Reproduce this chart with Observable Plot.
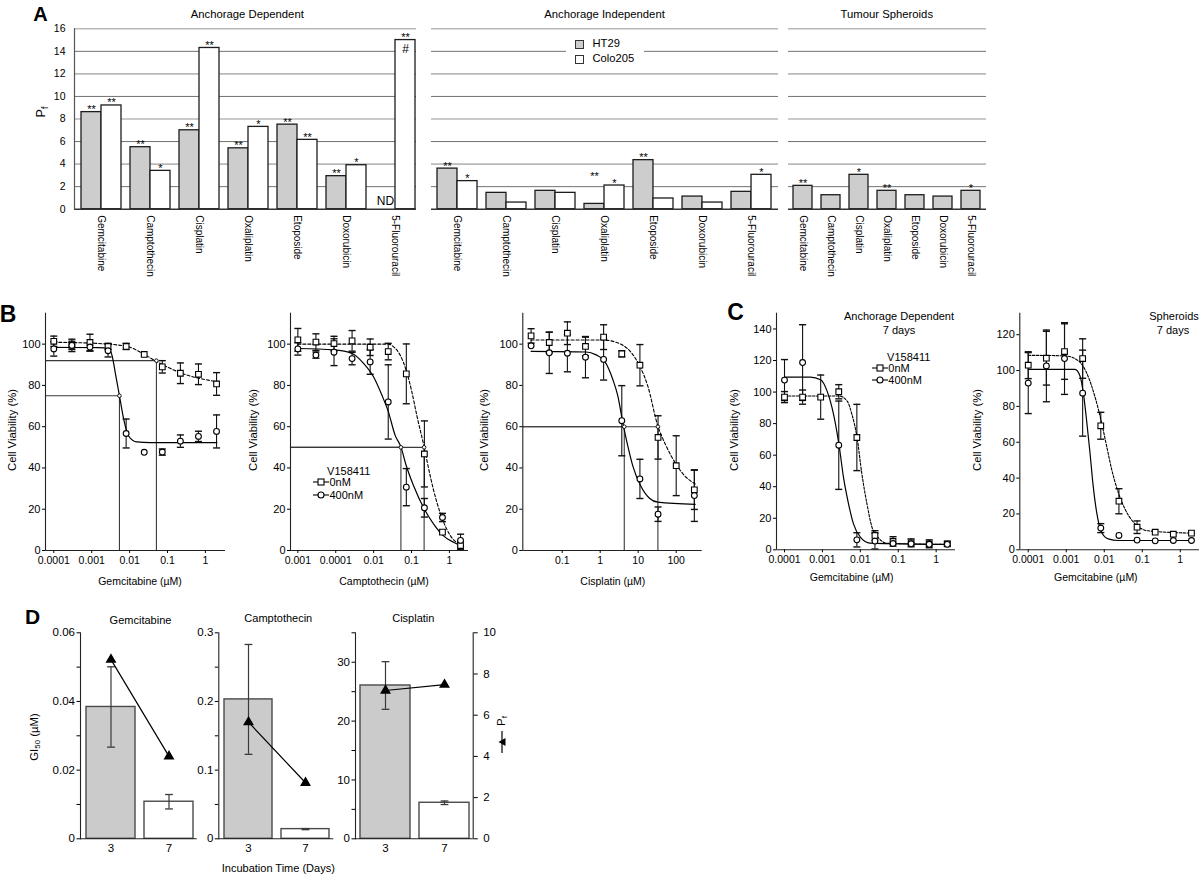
<!DOCTYPE html>
<html><head><meta charset="utf-8">
<script src="https://cdn.jsdelivr.net/npm/d3@7"></script>
<script src="https://cdn.jsdelivr.net/npm/@observablehq/plot@0.6"></script>
<style>
body{margin:0;background:#fff;}
#root{position:relative;width:1200px;height:876px;overflow:hidden;font-family:"Liberation Sans",Arial,Helvetica,sans-serif;color:#000;background:#fff;}
.pl{position:absolute;}
.t{position:absolute;white-space:nowrap;line-height:1;}
.t sub{font-size:0.7em;vertical-align:baseline;position:relative;top:0.3em;}
</style></head><body><div id="root"></div>
<script>
// ---------------- DATA ----------------
const drugs = ["Gemcitabine","Camptothecin","Cisplatin","Oxaliplatin","Etoposide","Doxorubicin","5-Fluorouracil"];
// Panel A: Pf values
const adHT29 = [8.61, 5.5, 7.0, 5.4, 7.5, 2.93, null];
const adColo = [9.2, 3.4, 14.3, 7.3, 6.15, 3.9, 15.0];
const adStarHT29 = ["**","**","**","**","**","**",""];
const adStarColo = ["**","*","**","*","**","*","**"];
const aiHT29 = [3.6, 1.45, 1.63, 0.47, 4.35, 1.12, 1.54];
const aiColo = [2.49, 0.59, 1.45, 2.1, 0.95, 0.59, 3.05];
const aiStarHT29 = ["**","","","**","**","",""];
const aiStarColo = ["*","","","*","","","*"];
const aiStarLiftHT29 = [null,null,null,2.67,null,null,null];
const tsHT29 = [2.07, 1.24, 3.05, 1.63, 1.24, 1.12, 1.63];
const tsStar = ["**","","*","**","","","*"];
const pfTicks = [0,2,4,6,8,10,12,14,16];
const gridLight = [4,8,12,16];
const gridDark = [2,6,10,14];

// Panels B, C: concentrations (uM)
const concG = [0.0001, 0.0003, 0.0009, 0.0027, 0.0081, 0.0243, 0.0729, 0.2187, 0.6561, 1.968];
const concCis = [0.0152, 0.0457, 0.137, 0.41, 1.23, 3.7, 11.1, 33.3, 100, 300];
const decadeTicks = [0.0001, 0.001, 0.01, 0.1, 1];
const campTickLabels = ["0.001","0.0001","0.01","0.1","1"];
const cisTicks = [0.1, 1, 10, 100];
const viabTicksB = [0,20,40,60,80,100];
const viabTicksC1 = [0,20,40,60,80,100,120,140];
const viabTicksC2 = [0,20,40,60,80,100,120];

// B1 Gemcitabine
const gem0 = [101.4, 99.4, 100.8, 98.9, 98.9, 95, 89, 85.9, 85.4, 80.7];
const gem0Err = [2.5, 3, 4, 1.5, 1.5, null, 3, 5, 5, 5.5];
const gem400 = [97.7, 99.4, 98.6, 96.8, 56.7, 47.6, 47.7, 53, 55.3, 57.7];
const gem400Err = [3.5, 2, 2, 3, 7, null, 1.5, 3, 2.5, 8];
const gem0FitX = [0.0001, 0.00092, 0.0081, 0.0245, 0.049, 0.23, 2.0];
const gem0FitY = [100.9, 100.5, 99, 95, 91.8, 86, 81.8];
const gem400FitX = [0.0001, 0.0015, 0.0028, 0.0035, 0.0042, 0.0054, 0.007, 0.0094, 0.0155, 0.035, 2.0];
const gem400FitY = [98.4, 98.3, 98, 94, 86, 75, 63.5, 55.5, 52.6, 52.3, 52.3];
const gemRefX = [0.051, 0.0054];
const gemRefY = [92, 75];

// B2 Camptothecin
const cam0 = [102.1, 101, 100.3, 101.6, 98.5, 96.4, 85.6, 46.8, 8.9, 2.4];
const cam0Err = [5.5, 4, 3.5, 5, 4, 4, 14.5, 16, null, 2];
const cam400 = [97.7, 94.7, 96.1, 93, 91.4, 72, 30.7, 20.7, 16, 4.9];
const cam400Err = [3, 1.5, 6.5, 3, 6, 18, 9, 4.5, 2, 3];
const cam0FitX = [0.0001, 0.003, 0.0245, 0.0337, 0.05, 0.072, 0.102, 0.138, 0.215, 0.309, 0.464, 0.65, 1.05, 2.0];
const cam0FitY = [100, 100, 100, 98.7, 94.7, 87.4, 76.9, 65.5, 50.2, 36.4, 23.5, 15.4, 7.3, 2.75];
const cam400FitX = [0.0001, 0.00089, 0.0027, 0.0055, 0.01, 0.0166, 0.0245, 0.037, 0.0525, 0.072, 0.112, 0.215, 0.38, 0.65, 1.28, 2.0];
const cam400FitY = [97.9, 97.2, 95.5, 90.6, 84.1, 75.2, 67.2, 55.8, 50.2, 41.3, 31.6, 20.2, 12.9, 7.6, 4, 2.4];
const camRefX = [0.0525, 0.215];
const camRefY = [50, 50];

// B3 Cisplatin
const cis0 = [104, 100.8, 105.3, 98.9, 103.4, 95.3, 89.8, 54.8, 41.1, 29.4];
const cis0Err = [3.5, 5, 5.5, 4.5, 6, 1.5, 10, 10.5, 14.5, 9.5];
const cis400 = [99.2, 95.8, 95.6, 93.7, 92.6, 62.9, 34.7, 17.6, null, 26.6];
const cis400Err = [null, 10, 9, 10, 10, 17, 9.5, 3.5, null, 12.5];
const cis0FitX = [0.0152, 1.29, 2.5, 3.93, 6.5, 11.5, 17.8, 32.7, 54, 105, 182, 316];
const cis0FitY = [102, 102, 101, 99.5, 96, 88.7, 79.8, 60.5, 50.8, 41.1, 35.5, 32.3];
const cis400FitX = [0.0152, 0.426, 0.78, 1.29, 2.14, 2.9, 3.93, 5.3, 7.2, 11.5, 19.8, 32.7, 316];
const cis400FitY = [96.5, 96.2, 94.8, 91.9, 83, 75, 62, 50.8, 41, 31.5, 25.3, 23.4, 22.4];
const cisRefX = [4.3, 33];
const cisRefY = [60, 60];

// C1 Gemcitabine anchorage dependent 7 days
const adG0 = [96.8, 96.8, 96.8, 100.2, 71.2, 9.1, 5.3, 4.4, 3.8, 3.8];
const adG0Err = [3.5, 4.5, 14, 4.5, 21, 3, 3, 2.5, 2.5, 1.5];
const adG400 = [107.6, 118.7, null, 66.3, 6.3, 5.5, 4.0, 3.8, 3.5, 3.5];
const adG400Err = [13, 24, null, 28, 4.5, 5, null, null, null, null];
const adG0FitX = [0.0001, 0.00275, 0.0045, 0.006, 0.0082, 0.011, 0.015, 0.0203, 0.03, 0.05, 2.0];
const adG0FitY = [97.5, 97.5, 94.3, 85.9, 71.2, 48, 29, 14.3, 7.6, 4.2, 3.4];
const adG400FitX = [0.0001, 0.00048, 0.0009, 0.00133, 0.0018, 0.00275, 0.0036, 0.0049, 0.0066, 0.01, 0.018, 2.0];
const adG400FitY = [109.5, 109.5, 107.8, 100.6, 90, 66.3, 45.9, 29, 16.4, 8, 4.2, 3.4];

// C2 Gemcitabine spheroids 7 days
const spG0 = [103, 106.9, 110.6, 106.7, 69.2, 27.1, 12.6, 9.8, 8.7, 9.3];
const spG0Err = [7.5, 15, 15.5, 11, 7.5, 7, 3.5, null, null, null];
const spG400 = [93, 102.6, 106.7, 87.4, 12.1, 8, 5.4, 5, 5.2, 5.2];
const spG400Err = [17, 20, 20, 24, 2.5, null, null, null, null, null];
const spG0FitX = [0.0001, 0.00092, 0.0021, 0.0034, 0.0056, 0.0085, 0.0115, 0.0156, 0.0233, 0.035, 0.064, 0.144, 2.0];
const spG0FitY = [108.5, 108.2, 105.4, 98.9, 85.9, 71, 58, 45, 32, 22.8, 14.5, 10.6, 9.3];
const spG400FitX = [0.0001, 0.0017, 0.0023, 0.0028, 0.0034, 0.0042, 0.0051, 0.0063, 0.0085, 0.0127, 0.0233, 2.0];
const spG400FitY = [100.7, 100.7, 97, 87.8, 73, 54.4, 35.8, 21, 9.8, 6.1, 5.2, 5.2];

// Panel D
const days = ["3","7"];
const gemGI50 = [0.0384, 0.0108], gemGI50Err = [0.0117, 0.0021];
const camGI50 = [0.203, 0.0141], camGI50Err = [0.08, 0.0008];
const cisGI50 = [26.05, 6.12], cisGI50Err = [4.05, 0.3];
const gemPf = [8.7, 4.0], camPf = [5.66, 2.72], cisPf = [7.2, 7.48];
const pfTicksD = [0,2,4,6,8,10];

// ---------------- HELPERS ----------------
const root = document.getElementById("root");
const FONT = '"Liberation Sans", Arial, Helvetica, sans-serif';
const baseStyle = {background:"none", overflow:"visible", fontFamily:FONT, fontSize:"11px", color:"black", maxWidth:"none"};
const capSym = {draw(ctx, size){ const w = Math.sqrt(size); ctx.moveTo(-w,0); ctx.lineTo(w,0); }};

function mount(svg, left, top, width) {
  const d = document.createElement("div");
  d.className = "pl"; d.style.left = left+"px"; d.style.top = top+"px"; d.style.width = width+"px";
  d.appendChild(svg); root.appendChild(d);
}
function txt(html, x, y, o = {}) {
  const d = document.createElement("div");
  d.className = "t"; d.innerHTML = html;
  d.style.left = x+"px"; d.style.top = y+"px";
  d.style.fontSize = (o.size || 11)+"px";
  if (o.bold) d.style.fontWeight = "bold";
  if (o.ls) d.style.letterSpacing = o.ls+"px";
  let tr = o.anchor === "start" ? "translate(0,-50%)" : "translate(-50%,-50%)";
  if (o.rotate) tr += ` rotate(${o.rotate}deg)`;
  d.style.transform = tr;
  root.appendChild(d);
  return d;
}
function box(left, top, w, h, css) {
  const d = document.createElement("div");
  d.style.position = "absolute"; d.style.left = left+"px"; d.style.top = top+"px";
  d.style.width = w+"px"; d.style.height = h+"px"; d.style.boxSizing = "border-box";
  Object.assign(d.style, css); root.appendChild(d); return d;
}

// ---------------- PANEL A ----------------
function barPanel(o) {
  const W = o.width - o.ml - o.mr, n = drugs.length;
  const step = W / (n - o.pi + 2*o.po);
  const bw = step * (1 - o.pi);
  const half = o.colo ? bw/2 : 0;
  const rows = drugs.map((d,i) => ({drug:d, ht:o.ht[i], colo:o.colo ? o.colo[i] : null,
    sh:o.starHT[i], sc:o.starColo ? o.starColo[i] : "", lift:o.lift ? o.lift[i] : null}));
  const marks = [
    Plot.ruleY(gridLight, {stroke:"#b9b9b9", strokeWidth:1.6}),
    Plot.ruleY(gridDark, {stroke:"#727272", strokeWidth:1}),
    Plot.barY(rows.filter(r => r.ht != null), {x:"drug", y:"ht", fill:"#cdcdcd", stroke:"#1c1c1c", strokeWidth:1.3, insetRight:half}),
  ];
  if (o.colo) marks.push(Plot.barY(rows.filter(r => r.colo != null), {x:"drug", y:"colo", fill:"white", stroke:"#1c1c1c", strokeWidth:1.3, insetLeft:half}));
  marks.push(Plot.ruleY([0], {stroke:"#333", strokeWidth:1.4}));
  marks.push(Plot.text(rows.filter(r => r.sh && r.ht != null), {x:"drug", y:r => r.lift ?? r.ht, text:"sh", dx:-half/2, dy:1, lineAnchor:"bottom", fontSize:11}));
  if (o.colo) marks.push(Plot.text(rows.filter(r => r.sc), {x:"drug", y:"colo", text:"sc", dx:half/2, dy:1, lineAnchor:"bottom", fontSize:11}));
  if (o.nd) {
    marks.push(Plot.text(rows.filter(r => r.ht == null), {x:"drug", y:0, text:() => "ND", dx:-half/2, dy:-4, lineAnchor:"bottom", fontSize:12}));
    marks.push(Plot.text(rows.filter(r => r.ht == null), {x:"drug", y:"colo", text:() => "#", dx:half/2, dy:4, lineAnchor:"top", fontSize:12}));
  }
  marks.push(Plot.axisX({tickRotate:90, tickSize:0, tickPadding:6, fontSize:10, label:null}));
  if (o.yAxis) {
    marks.push(Plot.frame({anchor:"left", stroke:"#555", strokeWidth:1.2}));
    marks.push(Plot.axisY({ticks:pfTicks, tickFormat:d => String(d), tickSize:0, tickPadding:9, fontSize:10.5, label:null}));
  }
  return Plot.plot({
    width:o.width, height:300, marginLeft:o.ml, marginRight:o.mr, marginTop:28.3, marginBottom:91.3,
    x:{type:"band", domain:drugs, paddingInner:o.pi, paddingOuter:o.po, align:o.align},
    y:{domain:[0,16], axis:o.yAxis ? undefined : null},
    style:baseStyle, marks
  });
}
mount(barPanel({width:420, ml:74, mr:4, pi:0.192, po:0.05, align:0.86, ht:adHT29, colo:adColo, starHT:adStarHT29, starColo:adStarColo, yAxis:true, nd:true}), 0, 0, 420);
mount(barPanel({width:368, ml:11, mr:10, pi:0.19, po:0.105, align:0.45, ht:aiHT29, colo:aiColo, starHT:aiStarHT29, starColo:aiStarColo, lift:aiStarLiftHT29}), 420, 0, 368);
mount(barPanel({width:220, ml:8, mr:14, pi:0.312, po:0.177, align:0.43, ht:tsHT29, starHT:tsStar}), 780, 0, 220);

// ---------------- PANELS B, C ----------------
function dosePlot(o) {
  const pts = (m, e) => o.conc.map((c,i) => ({x:c, y:m[i], e:e[i]})).filter(d => d.y != null);
  const p0 = pts(o.m0, o.e0), p4 = pts(o.m4, o.e4);
  const errs = [...p0, ...p4].filter(d => d.e != null);
  const fit = (xs, ys) => xs.map((x,i) => ({x, y:ys[i]}));
  const refs = o.refX ? o.refX.map((x,i) => ({x, y:o.refY[i]})) : [];
  const fmt = o.labels ? (d => o.labels[o.xticks.indexOf(d)]) : (d => String(d));
  return Plot.plot({
    width:o.width, height:300, marginLeft:o.ml, marginRight:o.mr, marginTop:12.7, marginBottom:o.mb || 50,
    x:{type:"log", domain:o.xdom}, y:{domain:o.ydom},
    style:baseStyle,
    marks:[
      Plot.ruleY(refs, {y:"y", x1:o.xdom[0], x2:"x", stroke:"#3a3a3a", strokeWidth:1.1}),
      Plot.ruleX(refs, {x:"x", y1:0, y2:"y", stroke:"#3a3a3a", strokeWidth:1.1}),
      Plot.ruleX(errs, {x:"x", y1:d => d.y - d.e, y2:d => d.y + d.e, stroke:"#111", strokeWidth:1.1}),
      Plot.dot(errs, {x:"x", y:d => d.y + d.e, symbol:capSym, r:2, fill:"none", stroke:"#111", strokeWidth:1.4}),
      Plot.dot(errs, {x:"x", y:d => d.y - d.e, symbol:capSym, r:2, fill:"none", stroke:"#111", strokeWidth:1.4}),
      Plot.line(fit(o.f0x, o.f0y), {x:"x", y:"y", stroke:"black", strokeWidth:1.1, strokeDasharray:o.dash, curve:"monotone-x"}),
      Plot.line(fit(o.f4x, o.f4y), {x:"x", y:"y", stroke:"black", strokeWidth:1.2, curve:"monotone-x"}),
      Plot.dot(p0, {x:"x", y:"y", symbol:"square", r:3.2, fill:"white", stroke:"black", strokeWidth:1.1}),
      Plot.dot(p4, {x:"x", y:"y", symbol:"circle", r:2.9, fill:"white", stroke:"black", strokeWidth:1.1}),
      Plot.dot(refs, {x:"x", y:"y", r:1.8, fill:"white", stroke:"black", strokeWidth:0.9}),
      Plot.ruleX([o.xdom[0]], {stroke:"#222", strokeWidth:1.1}),
      Plot.ruleY([0], {stroke:"#222", strokeWidth:1.1}),
      Plot.axisY({ticks:o.yticks, tickFormat:d => String(d), tickSize:3, tickPadding:2, fontSize:11, label:null}),
      Plot.axisX({ticks:o.xticks, tickFormat:fmt, tickSize:3, tickPadding:3, fontSize:10.5, label:null}),
    ]
  });
}
mount(dosePlot({width:240, ml:45, mr:15, xdom:[6.04e-5, 3.39], ydom:[0,115], yticks:viabTicksB, xticks:decadeTicks,
  conc:concG, m0:gem0, e0:gem0Err, m4:gem400, e4:gem400Err, f0x:gem0FitX, f0y:gem0FitY, f4x:gem400FitX, f4y:gem400FitY,
  refX:gemRefX, refY:gemRefY, dash:"3,2"}), 0, 300, 240);
mount(dosePlot({width:240, ml:50, mr:12, xdom:[6.4e-5, 3.19], ydom:[0,115], yticks:viabTicksB, xticks:decadeTicks, labels:campTickLabels,
  conc:concG, m0:cam0, e0:cam0Err, m4:cam400, e4:cam400Err, f0x:cam0FitX, f0y:cam0FitY, f4x:cam400FitX, f4y:cam400FitY,
  refX:camRefX, refY:camRefY, dash:"3,2"}), 240, 300, 240);
mount(dosePlot({width:230, ml:42.3, mr:8.3, xdom:[0.0092, 483], ydom:[0,115], yticks:viabTicksB, xticks:cisTicks,
  conc:concCis, m0:cis0, e0:cis0Err, m4:cis400, e4:cis400Err, f0x:cis0FitX, f0y:cis0FitY, f4x:cis400FitX, f4y:cis400FitY,
  refX:cisRefX, refY:cisRefY, dash:"3,2"}), 480, 300, 230);
mount(dosePlot({width:250, ml:56, mr:15, mb:50.7, xdom:[6.15e-5, 3.24], ydom:[0,150], yticks:viabTicksC1, xticks:decadeTicks,
  conc:concG, m0:adG0, e0:adG0Err, m4:adG400, e4:adG400Err, f0x:adG0FitX, f0y:adG0FitY, f4x:adG400FitX, f4y:adG400FitY,
  dash:"2.5,1.5"}), 720, 300, 250);
mount(dosePlot({width:230, ml:49.3, mr:1, mb:50.7, xdom:[6.0e-5, 3.2], ydom:[0,132], yticks:viabTicksC2, xticks:decadeTicks,
  conc:concG, m0:spG0, e0:spG0Err, m4:spG400, e4:spG400Err, f0x:spG0FitX, f0y:spG0FitY, f4x:spG400FitX, f4y:spG400FitY,
  dash:"2.5,1.5"}), 970, 300, 230);

// ---------------- PANEL D ----------------
const dBand = {type:"band", domain:days, paddingInner:0.157, paddingOuter:0.07, align:0.6};
function dPlot(o) {
  const rows = days.map((d,i) => ({day:d, v:o.v[i], e:o.e[i]}));
  return Plot.plot({
    width:o.width, height:276, marginLeft:o.ml, marginRight:o.mr, marginTop:32.3, marginBottom:37.7,
    x:dBand, y:{domain:o.ydom}, style:baseStyle,
    marks:[
      Plot.barY(rows, {filter:d => d.day === days[0], x:"day", y:"v", fill:"#cbcbcb", stroke:"#4a4a4a", strokeWidth:1.4}),
      Plot.barY(rows, {filter:d => d.day !== days[0], x:"day", y:"v", fill:"white", stroke:"#4a4a4a", strokeWidth:1.4}),
      Plot.ruleX(rows, {x:"day", y1:d => d.v - d.e, y2:d => d.v + d.e, stroke:"#3a3a3a", strokeWidth:1.2}),
      Plot.dot(rows, {x:"day", y:d => d.v + d.e, symbol:capSym, r:2.2, fill:"none", stroke:"#3a3a3a", strokeWidth:1.3}),
      Plot.dot(rows, {x:"day", y:d => d.v - d.e, symbol:capSym, r:2.2, fill:"none", stroke:"#3a3a3a", strokeWidth:1.3}),
      Plot.ruleY([0], {stroke:"#222", strokeWidth:1.1}),
      Plot.frame({anchor:"left", stroke:"#222", strokeWidth:1.1}),
      Plot.axisY({ticks:o.major, tickFormat:d => String(d), tickSize:3.5, tickPadding:2, fontSize:11.5, label:null}),
      Plot.axisY({ticks:o.minor, tickFormat:() => "", tickSize:3.5, label:null}),
      Plot.axisX({tickSize:0, tickPadding:5, fontSize:11.5, label:null}),
    ]
  });
}
function dPf(o) {
  const rows = days.map((d,i) => ({day:d, pf:o.pf[i]}));
  const marks = [
    Plot.line(rows, {x:"day", y:"pf", stroke:"black", strokeWidth:1.2}),
    Plot.dot(rows, {x:"day", y:"pf", symbol:"triangle", r:3.1, fill:"black", stroke:"black"}),
  ];
  if (o.right) {
    marks.push(Plot.frame({anchor:"right", stroke:"#222", strokeWidth:1.1}));
    marks.push(Plot.axisY({anchor:"right", ticks:pfTicksD, tickFormat:d => String(d), tickSize:4, tickPadding:6, fontSize:11.5, label:null}));
  }
  return Plot.plot({
    width:o.width, height:276, marginLeft:o.ml, marginRight:o.mr, marginTop:32.3, marginBottom:37.7,
    x:{...dBand, axis:null}, y:{domain:[0,10], axis:o.right ? undefined : null}, style:baseStyle, marks
  });
}
mount(dPlot({width:210, ml:80, mr:13.3, ydom:[0,0.06], major:[0,0.02,0.04,0.06], minor:[0.01,0.03,0.05], v:gemGI50, e:gemGI50Err}), 0, 600, 210);
mount(dPf({width:210, ml:80, mr:13.3, pf:gemPf}), 0, 600, 210);
mount(dPlot({width:170, ml:38.3, mr:16.7, ydom:[0,0.3], major:[0,0.1,0.2,0.3], minor:[0.05,0.15,0.25], v:camGI50, e:camGI50Err}), 180, 600, 170);
mount(dPf({width:170, ml:38.3, mr:16.7, pf:camPf}), 180, 600, 170);
mount(dPlot({width:160, ml:5, mr:37.3, ydom:[0,35], major:[0,10,20,30], minor:[5,15,25,35], v:cisGI50, e:cisGI50Err}), 350, 600, 160);
mount(dPf({width:160, ml:5, mr:37.3, pf:cisPf, right:true}), 350, 600, 160);

// ---------------- TEXT ----------------
txt("A", 40.5, 13.7, {size:20, bold:true});
txt("B", 8, 313.5, {size:23, bold:true});
txt("C", 735.5, 312.4, {size:23, bold:true});
txt("D", 32.5, 615.5, {size:21, bold:true});

txt("Anchorage Dependent", 247.3, 14.7, {size:11.3});
txt("Anchorage Independent", 604.5, 14.7, {size:11.3});
txt("Tumour Spheroids", 886.8, 14.7, {size:11.3});
txt("P<sub>f</sub>", 41.3, 112, {size:12.5, rotate:-90});

// A legend
box(566, 35, 78, 31, {background:"white"});
box(575, 40, 9, 8.5, {background:"#cdcdcd", border:"1px solid #333"});
box(575, 55, 9, 8.5, {background:"white", border:"1px solid #333"});
txt("HT29", 592.5, 44, {size:11.2, anchor:"start"});
txt("Colo205", 592.5, 59.3, {size:11.2, anchor:"start"});

// B / C axis labels
const yl = "Cell Viability (%)";
txt(yl, 13, 430, {size:11.3, rotate:-90});
txt(yl, 253.5, 430, {size:11.3, rotate:-90});
txt(yl, 485, 430, {size:11.3, rotate:-90});
txt(yl, 735, 430, {size:11.3, rotate:-90});
txt(yl, 978, 430, {size:11.3, rotate:-90});
txt("Gemcitabine (µM)", 140, 580.7, {size:10.5});
txt("Camptothecin (µM)", 384, 580.7, {size:10.5});
txt("Cisplatin (µM)", 612.8, 580.7, {size:10.5});
txt("Gemcitabine (µM)", 851.7, 577, {size:10.5});
txt("Gemcitabine (µM)", 1095.8, 577, {size:10.5});

txt("Anchorage Dependent", 899, 316, {size:11});
txt("7 days", 899, 330, {size:11});
txt("Spheroids", 1174, 316, {size:11});
txt("7 days", 1173, 330, {size:11});

// dose-response legends
function doseLegend(cx, y0, y1, y2, symLeft, textLeft) {
  txt("V158411", cx, y0, {size:11});
  const sq = `<svg width="16" height="10" style="display:block"><line x1="0" y1="5" x2="16" y2="5" stroke="black" stroke-width="1.1"/><rect x="5" y="2" width="6" height="6" fill="white" stroke="black" stroke-width="1.1"/></svg>`;
  const ci = `<svg width="16" height="10" style="display:block"><line x1="0" y1="5" x2="16" y2="5" stroke="black" stroke-width="1.1"/><circle cx="8" cy="5" r="3" fill="white" stroke="black" stroke-width="1.1"/></svg>`;
  txt(sq, symLeft, y1, {anchor:"start"});
  txt(ci, symLeft, y2, {anchor:"start"});
  txt("0nM", textLeft, y1, {size:11, anchor:"start"});
  txt("400nM", textLeft, y2, {size:11, anchor:"start"});
}
doseLegend(348.7, 471, 481.7, 495, 312.7, 329.5);
doseLegend(908.7, 356.5, 368.3, 379.5, 871.7, 888.3);

// D labels
txt("Gemcitabine", 140.5, 620, {size:11});
txt("Camptothecin", 278.3, 617.7, {size:11});
txt("Cisplatin", 413.3, 617.7, {size:11});
txt("Incubation Time (Days)", 278.3, 868, {size:11});
txt("GI<sub>50</sub> (µM)", 35, 736.7, {size:11.3, rotate:-90});
txt("P<sub>f</sub>", 501.7, 721, {size:11.5, rotate:-90});
txt(`<svg width="10" height="22" style="display:block"><line x1="5" y1="0" x2="5" y2="22" stroke="black" stroke-width="1.2"/><path d="M1.5,11 L8.5,7 L8.5,15 Z" fill="black"/></svg>`, 501.7, 742, {});
</script></body></html>
